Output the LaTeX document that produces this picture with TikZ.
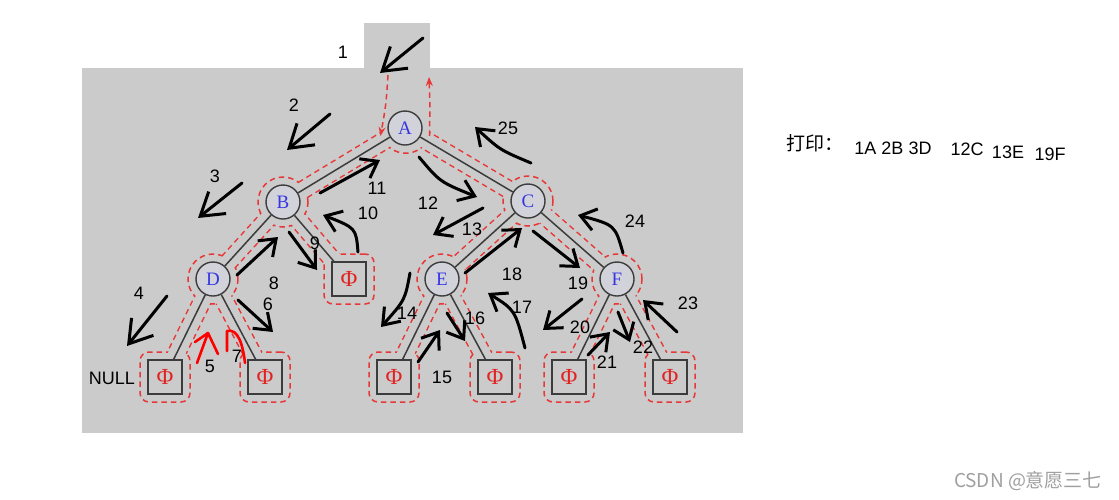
\documentclass[tikz,border=0pt]{standalone}
\usepackage{fontspec}
\setmainfont{Liberation Sans}
\newfontfamily\serifnode{Liberation Serif}
\newfontfamily\cjk{Noto Sans CJK SC}
\usepackage{tikz}
\usetikzlibrary{arrows.meta}

\definecolor{bggray}{RGB}{203,203,203}
\definecolor{nodegray}{RGB}{210,210,218}
\definecolor{dashred}{RGB}{232,55,55}
\definecolor{letterblue}{RGB}{55,55,225}
\definecolor{phired}{RGB}{225,35,35}
\definecolor{edgegray}{RGB}{60,60,60}

\tikzset{
  treenode/.style={circle, draw=edgegray, line width=1.4pt, fill=nodegray, minimum size=34pt, inner sep=0pt,
    text=letterblue, font=\serifnode\fontsize{19}{19}\selectfont},
  leaf/.style={rectangle, draw=edgegray, line width=1.4pt, fill=bggray, minimum size=34pt, inner sep=0pt,
    text=phired, font=\serifnode\fontsize{23}{23}\selectfont},
  reddash/.style={draw=dashred, line width=1.5pt, dash pattern=on 5.5pt off 4pt},
  halo/.style={circle, reddash, fill=bggray, minimum size=50pt, inner sep=0pt},
  leafhalo/.style={rectangle, rounded corners=9pt, reddash, fill=bggray, minimum size=50pt, inner sep=0pt},
  corridor/.style={draw=dashred, line width=19pt, dash pattern=on 5.5pt off 4pt},
  erase/.style={draw=bggray, line width=16pt},
  treeedge/.style={draw=edgegray, line width=1.5pt},
  hand/.style={draw=black, line width=3pt, line cap=round, line join=round,
    -{Straight Barb[length=15pt, width=22pt]}},
  bighand/.style={hand, -{Straight Barb[length=22pt, width=28pt]}},
  redmark/.style={draw=red, line width=2.6pt, line cap=round, line join=round},
  num/.style={font=\fontsize{18}{20}\selectfont, inner sep=1pt}
}

\begin{document}
\begin{tikzpicture}[x=1pt, y=-1pt]
  \useasboundingbox (0,0) rectangle (1119,499);
  % canvas
  \fill[bggray] (82,68) rectangle (743,433);
  \fill[bggray] (364,23) rectangle (430,68);

  % where the tree sits
  \coordinate (cA) at (405,128);
  \coordinate (cB) at (283,202);
  \coordinate (cC) at (528,201);
  \coordinate (cD) at (213,279);
  \coordinate (cE) at (442,279);
  \coordinate (cF) at (617,279);
  \coordinate (cPB) at (349,279);
  \coordinate (cPD1) at (165,377);
  \coordinate (cPD2) at (265,377);
  \coordinate (cPE1) at (394,377);
  \coordinate (cPE2) at (495,377);
  \coordinate (cPF1) at (569,377);
  \coordinate (cPF2) at (670,377);

  % dashed walk round the tree
  \draw[corridor] (cA) -- (cB) (cA) -- (cC) (cB) -- (cD) (cB) -- (cPB)
    (cD) -- (cPD1) (cD) -- (cPD2) (cC) -- (cE) (cC) -- (cF)
    (cE) -- (cPE1) (cE) -- (cPE2) (cF) -- (cPF1) (cF) -- (cPF2);
  \node[halo, draw=none] (hA) at (cA) {};
  \node[halo] (hB) at (cB) {};
  \node[halo] (hC) at (cC) {};
  \node[halo] (hD) at (cD) {};
  \node[halo] (hE) at (cE) {};
  \node[halo] (hF) at (cF) {};
  \node[leafhalo] (hPB) at (cPB) {};
  \node[leafhalo] (hPD1) at (cPD1) {};
  \node[leafhalo] (hPD2) at (cPD2) {};
  \node[leafhalo] (hPE1) at (cPE1) {};
  \node[leafhalo] (hPE2) at (cPE2) {};
  \node[leafhalo] (hPF1) at (cPF1) {};
  \node[leafhalo] (hPF2) at (cPF2) {};
  \draw[reddash] (hA.342) arc[start angle=-18, end angle=-162, radius=25pt];
  \draw[erase] (cA) -- (cB) (cA) -- (cC) (cB) -- (cD) (cB) -- (cPB)
    (cD) -- (cPD1) (cD) -- (cPD2) (cC) -- (cE) (cC) -- (cF)
    (cE) -- (cPE1) (cE) -- (cPE2) (cF) -- (cPF1) (cF) -- (cPF2);
  \draw[reddash, -{Stealth[length=9pt, width=7pt]}] (388,75) .. controls (386,105) .. (hA.198);
  \draw[reddash, -{Stealth[length=9pt, width=7pt]}] (hA.342) .. controls (430,105) .. (429,77);

  % tree
  \node[treenode] (A) at (cA) {A};
  \node[treenode] (B) at (cB) {B};
  \node[treenode] (C) at (cC) {C};
  \node[treenode] (D) at (cD) {D};
  \node[treenode] (E) at (cE) {E};
  \node[treenode] (F) at (cF) {F};
  \node[leaf] (PB) at (cPB) {Φ};
  \node[leaf] (PD1) at (cPD1) {Φ};
  \node[leaf] (PD2) at (cPD2) {Φ};
  \node[leaf] (PE1) at (cPE1) {Φ};
  \node[leaf] (PE2) at (cPE2) {Φ};
  \node[leaf] (PF1) at (cPF1) {Φ};
  \node[leaf] (PF2) at (cPF2) {Φ};
  \draw[treeedge] (A) -- (B);
  \draw[treeedge] (A) -- (C);
  \draw[treeedge] (B) -- (D);
  \draw[treeedge] (B) -- (PB);
  \draw[treeedge] (D) -- (PD1);
  \draw[treeedge] (D) -- (PD2);
  \draw[treeedge] (C) -- (E);
  \draw[treeedge] (C) -- (F);
  \draw[treeedge] (E) -- (PE1);
  \draw[treeedge] (E) -- (PE2);
  \draw[treeedge] (F) -- (PF1);
  \draw[treeedge] (F) -- (PF2);

  % step numbers
  \node[num] (n1) at (343,52) {1};
  \node[num] (n2) at (294,105) {2};
  \node[num] (n3) at (215,176) {3};
  \node[num] (n4) at (139,293) {4};
  \node[num] (n5) at (210,366) {5};
  \node[num] (n6) at (268,304) {6};
  \node[num] (n7) at (237,356) {7};
  \node[num] (n8) at (274,283) {8};
  \node[num] (n9) at (315,243) {9};
  \node[num] (n10) at (368,213) {10};
  \node[num] (n11) at (377,188) {11};
  \node[num] (n12) at (428,203) {12};
  \node[num] (n13) at (472,229) {13};
  \node[num] (n14) at (407,313) {14};
  \node[num] (n15) at (442,377) {15};
  \node[num] (n16) at (475,318) {16};
  \node[num] (n17) at (522,307) {17};
  \node[num] (n18) at (512,274) {18};
  \node[num] (n19) at (578,283) {19};
  \node[num] (n20) at (580,327) {20};
  \node[num] (n21) at (607,362) {21};
  \node[num] (n22) at (643,347) {22};
  \node[num] (n23) at (688,303) {23};
  \node[num] (n24) at (635,221) {24};
  \node[num] (n25) at (508,128) {25};
  \node[num] (null) at (112,378) {NULL};

  % hand drawn arrows
  \draw[bighand] (423,38) -- (380,73);
  \draw[bighand] (330,114) -- (287,150);
  \draw[bighand] (242,183) -- (198,218);
  \draw[bighand] (167,296) -- (127,346);
  \draw[hand] (238,300) -- (273,332);
  \draw[hand] (237,275) -- (278,237);
  \draw[hand] (289,232) -- (317,270);
  \draw[hand] (358,252) .. controls (356,228) .. (323,215);
  \draw[hand] (320,193) -- (380,160);
  \draw[hand] (419,157) .. controls (440,182) .. (477,197);
  \draw[hand] (483,208) -- (433,235);
  \draw[hand] (410,273) .. controls (405,300) .. (381,327);
  \draw[hand] (418,362) -- (440,330);
  \draw[hand] (447,313) -- (465,341);
  \draw[hand] (525,348) .. controls (515,310) .. (488,293);
  \draw[hand] (465,273) -- (522,228);
  \draw[hand] (533,231) -- (580,268);
  \draw[hand] (582,299) -- (543,330);
  \draw[hand] (588,355) -- (610,332);
  \draw[hand] (618,312) -- (630,342);
  \draw[hand] (677,332) -- (643,300);
  \draw[hand] (623,253) .. controls (615,225) .. (578,215);
  \draw[hand] (531,163) .. controls (500,150) .. (475,127);
  \draw[redmark] (197,363) -- (208,333) -- (218,354);
  \draw[redmark] (195,342) -- (208,333);
  \draw[redmark] (227,351) -- (227,331) .. controls (238,328) and (243,345) .. (245,363);

  % printed order
  \node[font=\cjk\fontsize{19}{21}\selectfont] (print) at (815,143) {打印：};
  \node[num] (out1) at (893,148) {1A 2B 3D};
  \node[num] (out2) at (967,149) {12C};
  \node[num] (out3) at (1008,152) {13E};
  \node[num] (out4) at (1050,154) {19F};
  \node[font=\cjk\fontsize{19}{21}\selectfont, text=gray!75] (mark) at (1028,481) {CSDN @意愿三七};
\end{tikzpicture}
\end{document}
